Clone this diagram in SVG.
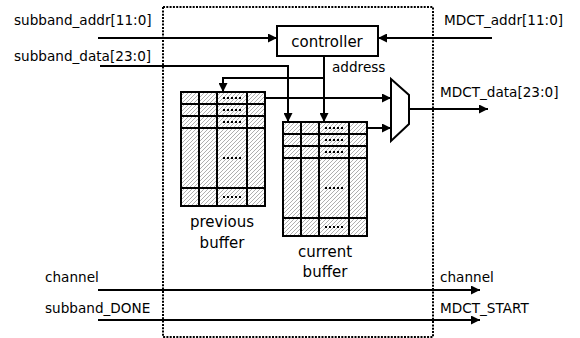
<svg xmlns="http://www.w3.org/2000/svg" width="580" height="338" viewBox="0 0 580 338">
<style>
.lbl{font-family:"DejaVu Sans","Liberation Sans",sans-serif;font-size:13.6px;fill:#000}
.big{font-family:"DejaVu Sans","Liberation Sans",sans-serif;font-size:15px;fill:#000;text-anchor:middle}
.wire{fill:none;stroke:#000;stroke-width:2}
.arr{marker-end:url(#ah)}
.grid{fill:none;stroke:#000;stroke-width:2}
.dots{stroke:#000;stroke-width:2;stroke-dasharray:2 2}
</style>
<defs>
<marker id="ah" viewBox="0 0 10 10" refX="10" refY="5" markerWidth="10" markerHeight="9" markerUnits="userSpaceOnUse" orient="auto">
<path d="M0,0 L10,5 L0,10 z" fill="#000"/>
</marker>
<pattern id="hatch" patternUnits="userSpaceOnUse" width="4" height="4">
<rect width="4" height="4" fill="#fff"/>
<path d="M-1,1 L1,-1 M0,4 L4,0 M3,5 L5,3" stroke="#9a9a9a" stroke-width="0.8"/>
</pattern>
<g id="table">
<rect x="0" y="0" width="84" height="114" fill="url(#hatch)"/>
<path class="grid" d="M0,0 H84 V114 H0 Z M0,12 H84 M0,24 H84 M0,36 H84 M0,96 H84 M18,0 V114 M36,0 V114 M66,0 V114"/>
<path class="dots" d="M42,6 H60 M42,18 H60 M42,30 H60 M42,66 H60 M42,105 H60"/>
</g>
</defs>

<g id="boundary">
<rect x="163" y="7" width="270" height="330" fill="none" stroke="#000" stroke-width="2" stroke-dasharray="2 1.3"/>
</g>

<g id="controller">
<rect x="277" y="26" width="101" height="30" fill="#fff" stroke="#000" stroke-width="2"/>
<text class="big" x="327" y="47">controller</text>
</g>

<g id="previous_buffer">
<use href="#table" x="181" y="92"/>
<text class="big" x="222" y="227">previous</text>
<text class="big" x="222" y="248">buffer</text>
</g>

<g id="current_buffer">
<use href="#table" x="283" y="122"/>
<text class="big" x="325" y="257">current</text>
<text class="big" x="325" y="277">buffer</text>
</g>

<g id="mux">
<polygon points="391,79 409,95 409,124 391,141" fill="#fff" stroke="#000" stroke-width="2"/>
</g>

<g id="connectors">
<path class="wire arr" d="M98,38 H277"/>
<path class="wire arr" d="M492,38 H378"/>
<path class="wire arr" d="M100,66 H288 V122"/>
<path class="wire arr" d="M324,56 V122"/>
<path class="wire arr" d="M324,78 H223 V92"/>
<path class="wire arr" d="M265,98 H391"/>
<path class="wire arr" d="M367,128 H391"/>
<path class="wire arr" d="M409,109 H488"/>
<path class="wire arr" d="M98,290 H480"/>
<path class="wire arr" d="M98,320 H480"/>
</g>

<g id="labels">
<text class="lbl" x="14" y="25">subband_addr[11:0]</text>
<text class="lbl" x="14" y="61">subband_data[23:0]</text>
<text class="lbl" x="444" y="25">MDCT_addr[11:0]</text>
<text class="lbl" x="332" y="72">address</text>
<text class="lbl" x="440" y="97">MDCT_data[23:0]</text>
<text class="lbl" x="45" y="282">channel</text>
<text class="lbl" x="45" y="313">subband_DONE</text>
<text class="lbl" x="440" y="282">channel</text>
<text class="lbl" x="440" y="313">MDCT_START</text>
</g>
</svg>
